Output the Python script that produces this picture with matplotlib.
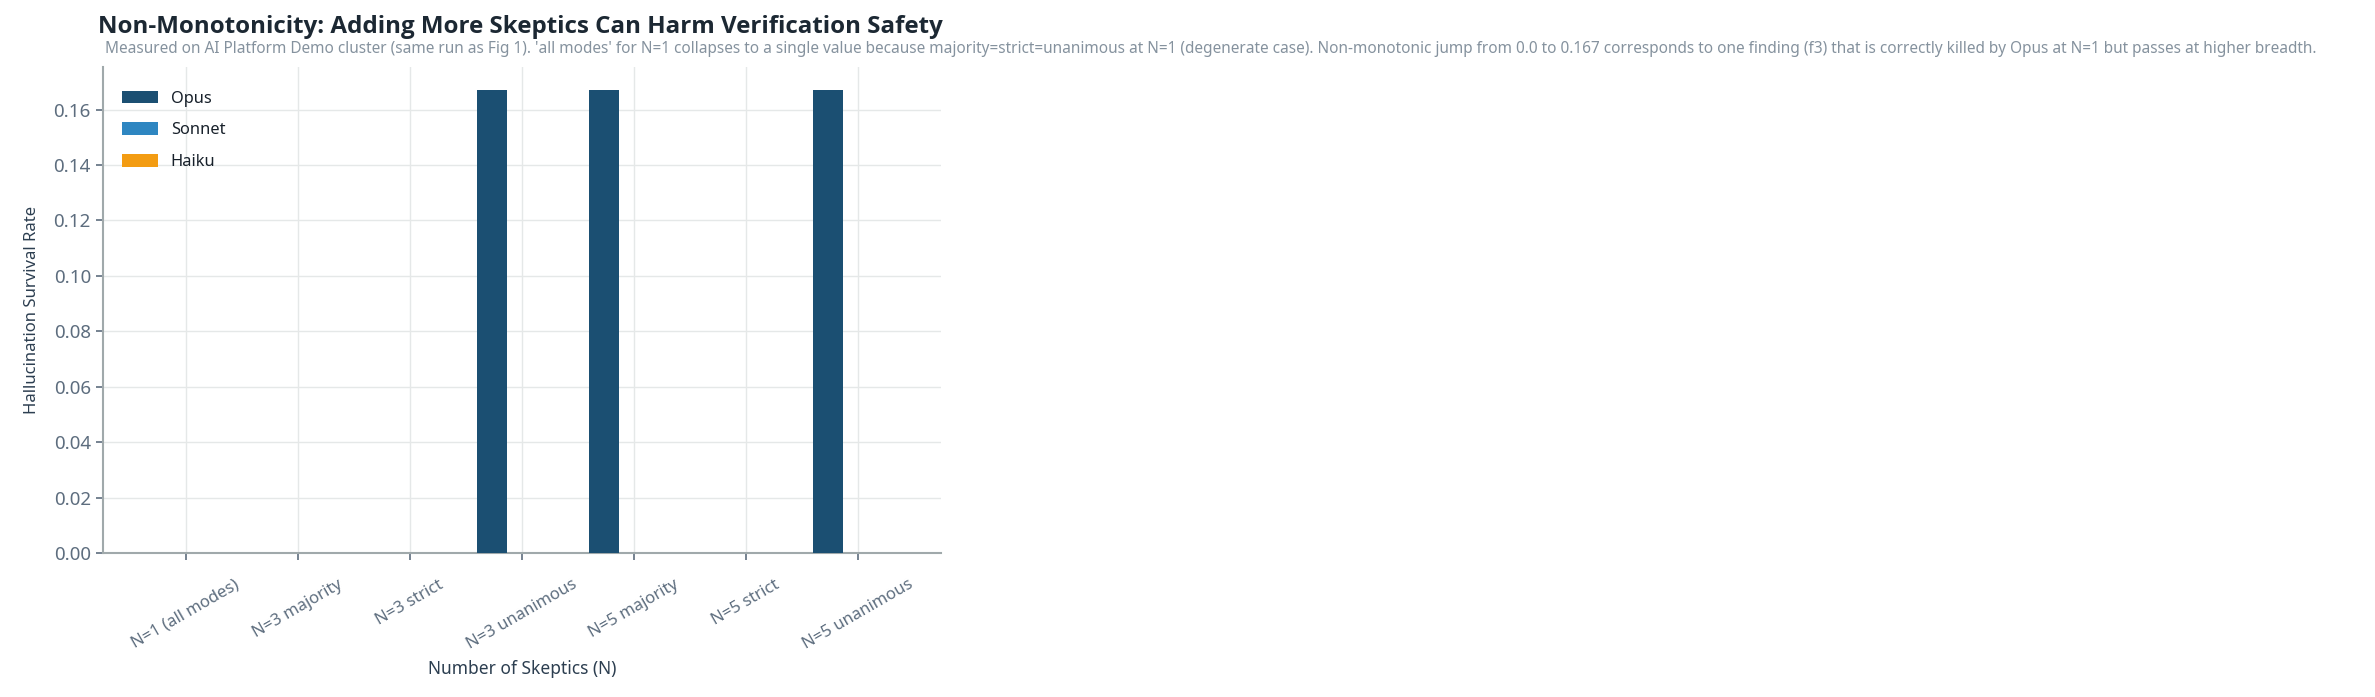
import matplotlib
matplotlib.use("Agg")
import matplotlib.pyplot as plt
import numpy as np

plt.rcParams['font.family'] = ['Noto Sans', 'DejaVu Sans']

categories = ["N=1 (all modes)", "N=3 majority", "N=3 strict", "N=3 unanimous",
              "N=5 majority", "N=5 strict", "N=5 unanimous"]
opus = [0.0, 0.0, 0.0, 0.167, 0.167, 0.0, 0.167]
sonnet = [0.0, 0.0, 0.0, 0.0, 0.0, 0.0, 0.0]
haiku = [0.0, 0.0, 0.0, 0.0, 0.0, 0.0, 0.0]
series_names = ["Opus", "Sonnet", "Haiku"]
colors = ["#1b4f72", "#2e86c1", "#f39c12"]

title = "Non-Monotonicity: Adding More Skeptics Can Harm Verification Safety"
subtitle = ("Measured on AI Platform Demo cluster (same run as Fig 1). 'all modes' for N=1 collapses to a "
            "single value because majority=strict=unanimous at N=1 (degenerate case). Non-monotonic jump "
            "from 0.0 to 0.167 corresponds to one finding (f3) that is correctly killed by Opus at N=1 but "
            "passes at higher breadth.")

W, H = 2375, 697
fig = plt.figure(figsize=(W / 100, H / 100), dpi=100)
ax = fig.add_axes([102.7 / W, 1 - 553 / H, (940.7 - 102.7) / W, (553 - 67) / H])

x = np.arange(len(categories))
w = 0.8 / 3
for i, (vals, name, c) in enumerate(zip([opus, sonnet, haiku], series_names, colors)):
    ax.bar(x + (i - 1) * w, vals, w, label=name, color=c, zorder=3)

ax.set_xticks(x)
ax.set_xticklabels(categories, rotation=30, ha='center', fontsize=12, color="#5d6d7e")
ax.tick_params(axis='y', labelsize=13.5, colors="#5d6d7e")
ax.tick_params(axis='x', pad=12)
ax.tick_params(axis='both', color="#5d6d7e", length=5, width=1.2)
ax.set_yticks(np.arange(0, 0.17, 0.02))
ax.set_yticklabels([f"{v:.2f}" for v in np.arange(0, 0.17, 0.02)])

ax.grid(True, color="#e5e8e8", linewidth=1.0, zorder=0)
ax.set_axisbelow(True)
for s in ["top", "right"]:
    ax.spines[s].set_visible(False)
for s in ["left", "bottom"]:
    ax.spines[s].set_color("#a0a9ab")
    ax.spines[s].set_linewidth(1.5)

ax.set_ylabel("Hallucination Survival Rate", fontsize=12, color="#2c3e50", labelpad=10)
ax.set_xlabel("Number of Skeptics (N)", fontsize=12.5, color="#2c3e50", labelpad=5)

leg = ax.legend(loc="upper left", bbox_to_anchor=(0, 1 - 5 / 486), frameon=False,
                fontsize=11.8, handlelength=2.2, handleheight=0.8, labelspacing=0.95,
                borderaxespad=0.75, handletextpad=0.8)
for t in leg.get_texts():
    t.set_color("#17202a")

t1 = fig.text(98 / W, 1 - 33 / H, title, fontsize=17, fontweight='bold', color="#1c2833",
              ha='left', va='baseline', family=['Open Sans', 'Noto Sans', 'DejaVu Sans'])
t2 = fig.text(105 / W, 1 - 53 / H, subtitle, fontsize=11, color="#85929e",
              ha='left', va='baseline')

# fit text widths to the reference layout
r = fig.canvas.get_renderer()
for t, target in [(t1, 846.0), (t2, 2213.0)]:
    wpx = t.get_window_extent(r).width
    t.set_fontsize(t.get_fontsize() * target / wpx)

fig.savefig("out.png", dpi=100)
